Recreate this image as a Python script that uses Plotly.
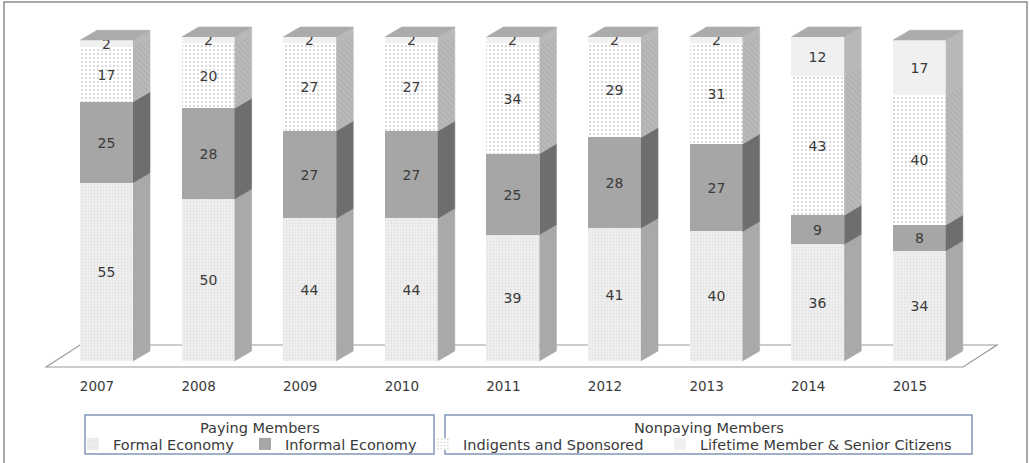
import plotly.graph_objects as go

# Membership shares (%) by year, stacked bottom to top
years = ["2007", "2008", "2009", "2010", "2011", "2012", "2013", "2014", "2015"]
formal = [55, 50, 44, 44, 39, 41, 40, 36, 34]
informal = [25, 28, 27, 27, 25, 28, 27, 9, 8]
indigents = [17, 20, 27, 27, 34, 29, 31, 43, 40]
lifetime = [2, 2, 2, 2, 2, 2, 2, 12, 17]

legend_groups = ["Paying Members", "Nonpaying Members"]

W, H = 1029, 463
FONT = "'DejaVu Sans', sans-serif"
TXT = "#3a3a3a"
BOX = "#8196b8"

# Pixel layout of the plot: category spacing, value scale, origin
PX_PER_CAT = 101.6
X0_PX = 106.5
PX_PER_PCT = 3.24
Y0_PX = 361

BAR_W = 53 / PX_PER_CAT          # front-face width (category units)
DX = 17 / PX_PER_CAT             # 3-D depth offset, horizontal
DY = 10 / PX_PER_PCT             # 3-D depth offset, vertical

idx = list(range(len(years)))


def px_x(p):
    return (p - X0_PX) / PX_PER_CAT


def px_y(p):
    return (Y0_PX - p) / PX_PER_PCT


# each series gets its own single-entry legend so entries can be placed freely
series = [
    dict(name="Formal Economy", vals=formal, legend="legend", leg_x=73,
         bg="#efefef", fg="#d4d4d4", shape=".", size=3, sol=0.35,
         side="#a9a9a9", side_pat=None),
    dict(name="Informal Economy", vals=informal, legend="legend2", leg_x=245,
         bg="#a6a6a6", fg="#a6a6a6", shape="", size=4, sol=0.3,
         side="#6e6e6e", side_pat=None),
    dict(name="Indigents and Sponsored", vals=indigents, legend="legend3", leg_x=423,
         bg="#ffffff", fg="#9a9a9a", shape=".", size=4, sol=0.2,
         side="#b6b6b6", side_pat=dict(shape="\\", fgcolor="#9c9c9c", bgcolor="#b9b9b9",
                                       size=4, solidity=0.25)),
    dict(name="Lifetime Member & Senior Citizens", vals=lifetime, legend="legend4", leg_x=660,
         bg="#f0f0f0", fg="#f0f0f0", shape="", size=4, sol=0.3,
         side="#b8b8b8", side_pat=None),
]

fig = go.Figure()

base = [0.0] * len(years)
side_traces = []
for s in series:
    vals = s["vals"]
    fig.add_trace(go.Bar(
        x=idx, y=vals, width=BAR_W, name=s["name"], legend=s["legend"],
        marker=dict(color=s["bg"], line=dict(width=0),
                    pattern=dict(shape=s["shape"], bgcolor=s["bg"], fgcolor=s["fg"],
                                 size=s["size"], solidity=s["sol"])),
        text=[str(v) for v in vals], textposition="inside", insidetextanchor="middle",
        textangle=0, textfont=dict(family=FONT, size=14, color=TXT),
        hoverinfo="skip",
    ))
    # right-hand side face of each segment
    xs, ys = [], []
    for i in idx:
        b, t = base[i], base[i] + vals[i]
        xe = i + BAR_W / 2
        xs += [xe, xe + DX, xe + DX, xe, None]
        ys += [b, b + DY, t + DY, t, None]
    kw = dict(fillpattern=s["side_pat"]) if s["side_pat"] else {}
    side_traces.append(go.Scatter(
        x=xs, y=ys, mode="lines", fill="toself", fillcolor=s["side"],
        line=dict(color=s["side"], width=0.6), showlegend=False, hoverinfo="skip", **kw))
    base = [base[i] + vals[i] for i in idx]

for tr in side_traces:
    fig.add_trace(tr)

# top face of each column
tx, ty = [], []
for i in idx:
    t = base[i]
    tx += [i - BAR_W / 2, i - BAR_W / 2 + DX, i + BAR_W / 2 + DX, i + BAR_W / 2, None]
    ty += [t, t + DY, t + DY, t, None]
fig.add_trace(go.Scatter(x=tx, y=ty, mode="lines", fill="toself", fillcolor="#ababab",
                         line=dict(color="#ababab", width=0.6), showlegend=False,
                         hoverinfo="skip"))

# floor plane under the columns
fl = [(px_x(46), px_y(367)), (px_x(80), px_y(345)), (px_x(997), px_y(345)), (px_x(963), px_y(367))]
floor_path = "M " + " L ".join(f"{x},{y}" for x, y in fl) + " Z"

label_shift = -9.5 / PX_PER_CAT

# legend group frames and their headings (paper coordinates)
boxes = [(85, 434), (445, 972)]
box_top, box_bot = 415, 454
shapes = [
    dict(type="path", path=floor_path, xref="x", yref="y", layer="below",
         line=dict(color="#9a9a9a", width=1.2), fillcolor="white"),
    dict(type="rect", xref="paper", yref="paper", x0=4 / W, x1=1027 / W,
         y0=-0.02, y1=1 - 2 / H, line=dict(color="#8a8a8a", width=1.5), layer="above"),
]
annotations = []
for (x0, x1), title in zip(boxes, legend_groups):
    shapes.append(dict(type="rect", xref="paper", yref="paper", x0=x0 / W, x1=x1 / W,
                       y0=1 - box_bot / H, y1=1 - box_top / H,
                       line=dict(color=BOX, width=1.5), layer="above"))
    annotations.append(dict(text=title, xref="paper", yref="paper",
                            x=(x0 + x1) / 2 / W, y=1 - 428 / H, xanchor="center",
                            yanchor="middle", showarrow=False,
                            font=dict(family=FONT, size=14.5, color=TXT)))

legends = {}
for s in series:
    legends[s["legend"]] = dict(
        orientation="h", yanchor="middle", y=1 - 444 / H, xanchor="left",
        x=s["leg_x"] / W, borderwidth=0, bgcolor="rgba(0,0,0,0)", itemwidth=30,
        font=dict(family=FONT, size=14.5, color=TXT))

fig.update_layout(
    width=W, height=H, margin=dict(l=0, r=0, t=0, b=0),
    paper_bgcolor="white", plot_bgcolor="white",
    barmode="stack", bargap=0,
    uniformtext=dict(minsize=14, mode="show"),
    font=dict(family=FONT, size=14, color=TXT),
    xaxis=dict(range=[px_x(0), px_x(W)], tickvals=[i + label_shift for i in idx],
               ticktext=years, showgrid=False, zeroline=False, showline=False,
               ticks="", anchor="free", position=1 - 376 / H,
               tickfont=dict(family=FONT, size=13.5, color=TXT), fixedrange=True),
    yaxis=dict(range=[px_y(H), px_y(0)], showgrid=False, zeroline=False,
               showticklabels=False, showline=False, fixedrange=True),
    shapes=shapes,
    annotations=annotations,
    **legends,
)

fig.write_html("out.html")
